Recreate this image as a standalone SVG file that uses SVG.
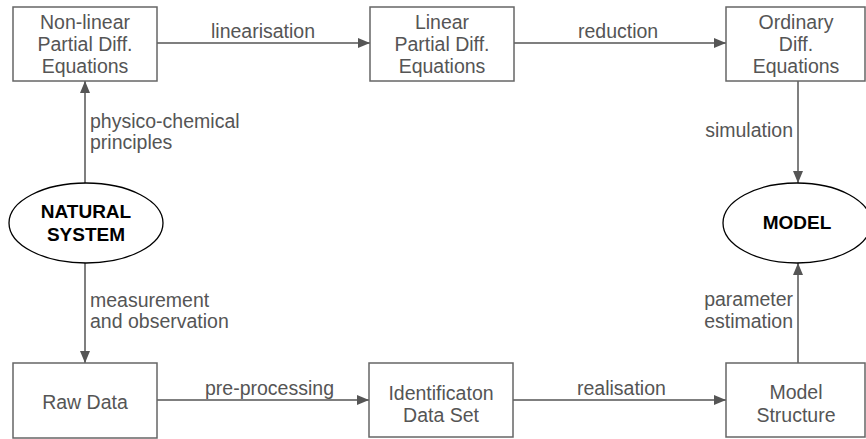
<svg xmlns="http://www.w3.org/2000/svg" width="866" height="439" viewBox="0 0 866 439">
<defs>
<marker id="ah" markerWidth="12" markerHeight="10" refX="12" refY="5" orient="auto" markerUnits="userSpaceOnUse">
<path d="M0,0 L12,5 L0,10 Z" fill="#555"/>
</marker>
</defs>
<style>
.box{fill:#fff;stroke:#666;stroke-width:1.5}
.ell{fill:#fff;stroke:#000;stroke-width:1.3}
.t{font-family:"Liberation Sans",Arial,sans-serif;font-size:19.5px;fill:#555;text-anchor:middle}
.tb{font-family:"Liberation Sans",Arial,sans-serif;font-size:19px;font-weight:bold;fill:#000;text-anchor:middle}
.l{font-family:"Liberation Sans",Arial,sans-serif;font-size:19.5px;fill:#555}
.le{font-family:"Liberation Sans",Arial,sans-serif;font-size:19.5px;fill:#555;text-anchor:end}
.c{stroke:#555;stroke-width:1.5;fill:none;marker-end:url(#ah)}
</style>
<g id="connectors">
<line class="c" x1="157" y1="43" x2="370" y2="43"/>
<line class="c" x1="514" y1="43" x2="726" y2="43"/>
<line class="c" x1="85" y1="184" x2="85" y2="81"/>
<line class="c" x1="85" y1="263" x2="85" y2="363"/>
<line class="c" x1="798" y1="81" x2="798" y2="183"/>
<line class="c" x1="798" y1="363" x2="798" y2="263"/>
<line class="c" x1="157" y1="400" x2="369" y2="400"/>
<line class="c" x1="513" y1="400" x2="726" y2="400"/>
<text class="l" x="211" y="38">linearisation</text>
<text class="l" x="578" y="38">reduction</text>
<text class="l" x="90" y="128">physico-chemical</text>
<text class="l" x="90" y="149">principles</text>
<text class="l" x="90" y="307">measurement</text>
<text class="l" x="90" y="328">and observation</text>
<text class="le" x="793" y="137">simulation</text>
<text class="le" x="793" y="306">parameter</text>
<text class="le" x="793" y="328">estimation</text>
<text class="l" x="205" y="395">pre-processing</text>
<text class="l" x="577" y="395">realisation</text>
</g>
<g id="n-nonlinear">
<rect class="box" x="13" y="7" width="144" height="74"/>
<text class="t" x="85" y="29">Non-linear</text>
<text class="t" x="85" y="51">Partial Diff.</text>
<text class="t" x="85" y="73">Equations</text>
</g>
<g id="n-linear">
<rect class="box" x="370" y="7" width="144" height="74"/>
<text class="t" x="442" y="29">Linear</text>
<text class="t" x="442" y="51">Partial Diff.</text>
<text class="t" x="442" y="73">Equations</text>
</g>
<g id="n-ode">
<rect class="box" x="726" y="7" width="139" height="74"/>
<text class="t" x="796" y="29">Ordinary</text>
<text class="t" x="796" y="51">Diff.</text>
<text class="t" x="796" y="73">Equations</text>
</g>
<g id="n-natural">
<ellipse class="ell" cx="86" cy="223" rx="77" ry="40"/>
<text class="tb" x="86" y="218">NATURAL</text>
<text class="tb" x="86" y="241">SYSTEM</text>
</g>
<g id="n-model">
<ellipse class="ell" cx="797" cy="223" rx="74" ry="40"/>
<text class="tb" x="797" y="229">MODEL</text>
</g>
<g id="n-raw">
<rect class="box" x="13" y="363" width="144" height="75"/>
<text class="t" x="85" y="409">Raw Data</text>
</g>
<g id="n-ident">
<rect class="box" x="369" y="363" width="144" height="74"/>
<text class="t" x="441" y="400">Identificaton</text>
<text class="t" x="441" y="422">Data Set</text>
</g>
<g id="n-struct">
<rect class="box" x="726" y="363" width="139" height="74"/>
<text class="t" x="796" y="399">Model</text>
<text class="t" x="796" y="422">Structure</text>
</g>
</svg>
